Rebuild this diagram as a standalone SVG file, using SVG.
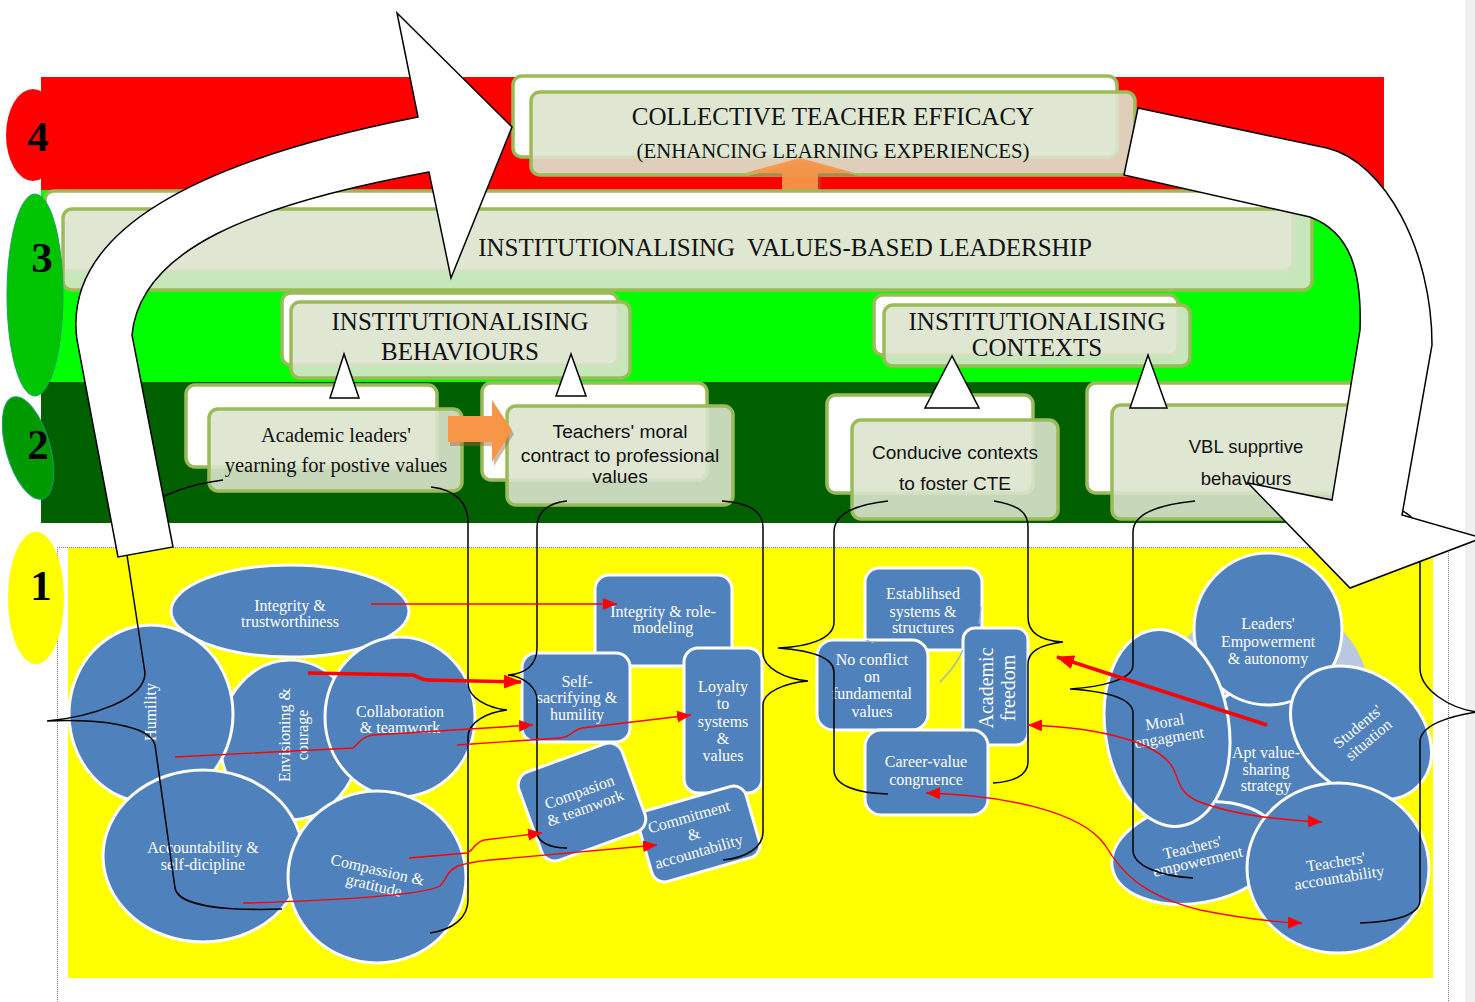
<svg xmlns="http://www.w3.org/2000/svg" width="1475" height="1002" viewBox="0 0 1475 1002">
<defs>
<style>
.bk{fill:#fff;stroke:#9bbb59;stroke-width:3.5}
.fr{fill:#dce4ce;fill-opacity:.9;stroke:#9bbb59;stroke-width:3.5}
.ser{font-family:"Liberation Serif","Times New Roman",serif;fill:#111}
.san{font-family:"Liberation Sans",Arial,sans-serif;fill:#111}
.mid{text-anchor:middle}
.blob{fill:#4f81bd;stroke:#fff;stroke-width:3}
.wt{font-family:"Liberation Serif","Times New Roman",serif;fill:#fff;font-size:16px;text-anchor:middle}
.br{fill:none;stroke:#000;stroke-width:1.5}
.rl{fill:none;stroke:#f00;stroke-width:1.4}
.rt{fill:none;stroke:#f00;stroke-width:3.5}
.wh{fill:#fff;stroke:#000;stroke-width:1.5}
.num{font-family:"Liberation Serif","Times New Roman",serif;font-weight:bold;font-size:43px;fill:#000;text-anchor:middle}
.org{fill:#f79646}
.sh{fill:#a0603a;opacity:.45}
.dot{stroke:#777;stroke-width:1;stroke-dasharray:1 1;fill:none}
.lb{fill:none;stroke:#8fb0dc;stroke-width:1.3}
</style>
<marker id="ah" markerUnits="userSpaceOnUse" markerWidth="14" markerHeight="12" refX="14" refY="6" orient="auto-start-reverse"><path d="M0,0 L14,6 L0,12 Z" fill="#f00"/></marker>
<marker id="ahb" markerUnits="userSpaceOnUse" markerWidth="18" markerHeight="14" refX="17" refY="7" orient="auto"><path d="M0,0 L18,7 L0,14 Z" fill="#f00"/></marker>
</defs>
<rect x="0" y="0" width="1475" height="1002" fill="#fff"/>
<rect x="1465" y="0" width="10" height="1002" fill="#f0f0f0"/>

<g id="bands">
<rect x="41" y="77" width="1343" height="113" fill="#f00"/>
<path d="M41 190 L1360 190 Q1398 200 1398 260 L1398 382 L41 382 Z" fill="#0f0"/>
<rect x="41" y="382" width="1339" height="141" fill="#006000"/>
<rect x="68" y="548" width="1365" height="430" fill="#ff0"/>
<path class="dot" d="M57.5 1002 V547.5 H1448.5 V1002"/>
</g>

<g id="cte">
<rect class="bk" x="513" y="76" width="604" height="81" rx="9"/>
<rect class="fr" x="531" y="92" width="604" height="83" rx="9"/>
<text class="ser mid" x="833" y="125" font-size="25">COLLECTIVE TEACHER EFFICACY</text>
<text class="ser mid" x="833" y="158" font-size="20.8">(ENHANCING LEARNING EXPERIENCES)</text>
</g>
<g id="up-arrow">
<path class="sh" d="M785 176 L785 200 L821 200 L821 176 L858 176 L803 161 L748 176 Z"/>
<path class="org" d="M782 173 L782 197 L818 197 L818 173 L855 173 L800 158 L745 173 Z" opacity=".92"/>
</g>

<g id="vbl">
<rect class="bk" x="45" y="191" width="1248" height="80" rx="9"/>
<rect class="fr" x="63" y="209" width="1249" height="81" rx="9"/>
<text class="ser mid" x="785" y="256" font-size="25" xml:space="preserve">INSTITUTIONALISING  VALUES-BASED LEADERSHIP</text>
</g>

<g id="behaviours">
<rect class="bk" x="282" y="293" width="336" height="72" rx="9"/>
<rect class="fr" x="291" y="302" width="339" height="76" rx="9"/>
<text class="ser mid" x="460" y="330" font-size="25">INSTITUTIONALISING</text>
<text class="ser mid" x="460" y="360" font-size="25">BEHAVIOURS</text>
</g>
<g id="contexts">
<rect class="bk" x="874" y="295" width="304" height="60" rx="9"/>
<rect class="fr" x="884" y="305" width="306" height="61" rx="9"/>
<text class="ser mid" x="1037" y="330" font-size="25">INSTITUTIONALISING</text>
<text class="ser mid" x="1037" y="356" font-size="25">CONTEXTS</text>
</g>

<g id="academic-leaders">
<rect class="bk" x="186" y="385" width="251" height="82" rx="9"/>
<rect class="fr" x="209" y="409" width="253" height="82" rx="9"/>
<text class="ser mid" x="336" y="442" font-size="20.5">Academic leaders'</text>
<text class="ser mid" x="336" y="472" font-size="20.5">yearning for postive values</text>
</g>
<g id="teachers-moral">
<rect class="bk" x="482" y="383" width="225" height="97" rx="9"/>
<rect class="fr" x="507" y="406" width="226" height="99" rx="9"/>
<text class="san mid" x="620" y="438" font-size="19.2">Teachers' moral</text>
<text class="san mid" x="620" y="462" font-size="19.2">contract to professional</text>
<text class="san mid" x="620" y="483" font-size="19.2">values</text>
</g>
<g id="conducive">
<rect class="bk" x="827" y="395" width="206" height="98" rx="9"/>
<rect class="fr" x="852" y="420" width="206" height="99" rx="9"/>
<text class="san mid" x="955" y="459" font-size="19">Conducive contexts</text>
<text class="san mid" x="955" y="490" font-size="19">to foster CTE</text>
</g>
<g id="vbl-supportive">
<rect class="bk" x="1087" y="383" width="280" height="110" rx="9"/>
<rect class="fr" x="1112" y="405" width="280" height="114" rx="9"/>
<text class="san mid" x="1246" y="453" font-size="18.5">VBL supprtive</text>
<text class="san mid" x="1246" y="485" font-size="18.5">behaviours</text>
</g>

<g id="level-4"><ellipse cx="33" cy="135" rx="27" ry="46" fill="#f00"/><text class="num" x="38" y="151">4</text></g>
<g id="level-3"><ellipse cx="35" cy="295" rx="28" ry="101" fill="#00c400" stroke="#1aa060" stroke-width="1"/><text class="num" x="42" y="272">3</text></g>
<g id="level-2"><ellipse cx="28" cy="448" rx="22" ry="53" transform="rotate(-16 28 448)" fill="#009a00" stroke="#10a070" stroke-width="1"/><text class="num" x="38" y="459">2</text></g>
<g id="level-1"><ellipse cx="36" cy="598" rx="28" ry="66" fill="#ff0"/><text class="num" x="41" y="600">1</text></g>

<g id="triangles">
<path class="wh" d="M344 354 L330 398 L359 398 Z"/>
<path class="wh" d="M571 354 L556 396 L586 396 Z"/>
<path class="wh" d="M952 356 L925 408 L979 408 Z"/>
<path class="wh" d="M1148 355 L1130 408 L1167 408 Z"/>
</g>
<g id="right-orange-arrow">
<path class="sh" d="M450 420 L494 420 L494 404 L514 434 L494 466 L494 446 L450 446 Z"/>
<path class="org" d="M448 416 L492 416 L492 400 L512 430 L492 462 L492 442 L448 442 Z"/>
</g>

<g id="cluster-behaviours-left">
<g id="n-envisioning"><ellipse class="blob" cx="290" cy="740" rx="70" ry="80"/><g transform="translate(290 735) rotate(-90)"><text class="wt" x="0" y="0">Envisioning &amp;</text><text class="wt" x="0" y="18">courage</text></g></g>
<g id="n-integrity-trust"><ellipse class="blob" cx="290" cy="611" rx="119" ry="46"/><text class="wt" x="290" y="611">Integrity &amp;</text><text class="wt" x="290" y="627">trustworthiness</text></g>
<g id="n-humility"><ellipse class="blob" cx="151" cy="714" rx="82" ry="89"/><text class="wt" transform="translate(156 712) rotate(-90)">Humility</text></g>
<g id="n-collaboration"><ellipse class="blob" cx="400" cy="717" rx="75" ry="80"/><text class="wt" x="400" y="717">Collaboration</text><text class="wt" x="400" y="733">&amp; teamwork</text></g>
<g id="n-accountability"><ellipse class="blob" cx="203" cy="856" rx="100" ry="86"/><text class="wt" x="203" y="853">Accountability &amp;</text><text class="wt" x="203" y="870">self-dicipline</text></g>
<g id="n-compassion-gratitude"><ellipse class="blob" cx="377" cy="877" rx="89" ry="86"/><g transform="translate(377 872) rotate(13)"><text class="wt" x="0" y="3">Compassion &amp;</text><text class="wt" x="0" y="19">gratitude</text></g></g>
</g>

<g id="cluster-behaviours-mid">
<g id="n-integrity-role"><rect class="blob" x="595" y="575" width="137" height="91" rx="14"/><text class="wt" x="663" y="617">Integrity &amp; role-</text><text class="wt" x="663" y="633">modeling</text></g>
<g id="n-loyalty"><rect class="blob" x="684" y="648" width="78" height="145" rx="14"/><text class="wt" x="723" y="692">Loyalty</text><text class="wt" x="723" y="709">to</text><text class="wt" x="723" y="727">systems</text><text class="wt" x="723" y="744">&amp;</text><text class="wt" x="723" y="761">values</text></g>
<g id="n-commitment"><g transform="translate(699 834) rotate(-16)"><rect class="blob" x="-56" y="-37" width="112" height="74" rx="13"/><text class="wt" x="-5" y="-14">Commitment</text><text class="wt" x="-5" y="4">&amp;</text><text class="wt" x="-5" y="22">accountability</text></g></g>
<g id="n-compasion-teamwork"><g transform="translate(582 802) rotate(-20)"><rect class="blob" x="-55" y="-47" width="110" height="94" rx="14"/><text class="wt" x="1" y="-5">Compasion</text><text class="wt" x="1" y="12">&amp; teamwork</text></g></g>
<g id="n-self-sacrifying"><rect class="blob" x="522" y="653" width="108" height="89" rx="14"/><text class="wt" x="577" y="687">Self-</text><text class="wt" x="577" y="703">sacrifying &amp;</text><text class="wt" x="577" y="720">humility</text></g>
</g>

<g id="cluster-contexts-mid">
<g id="n-established"><rect class="blob" x="865" y="568" width="117" height="82" rx="14"/><text class="wt" x="923" y="599">Establihsed</text><text class="wt" x="923" y="617">systems &amp;</text><text class="wt" x="923" y="633">structures</text></g>
<g id="n-no-conflict"><rect class="blob" x="817" y="640" width="111" height="90" rx="16"/><text class="wt" x="872" y="665">No conflict</text><text class="wt" x="872" y="682">on</text><text class="wt" x="872" y="699">fundamental</text><text class="wt" x="872" y="717">values</text></g>
<g id="n-academic-freedom"><rect class="blob" x="963" y="628" width="65" height="117" rx="12"/><g transform="translate(993 688) rotate(-90)"><text class="wt" style="font-size:20px" x="0" y="0">Academic</text><text class="wt" style="font-size:20px" x="0" y="22">freedom</text></g></g>
<g id="n-career-value"><rect class="blob" x="865" y="730" width="123" height="85" rx="16"/><text class="wt" x="926" y="767">Career-value</text><text class="wt" x="926" y="785">congruence</text></g>
<path class="lb" d="M940 682 C950 672 958 662 963 650"/>
<path class="lb" d="M981 607 L979 624"/>
<path class="lb" d="M866 640 L874 643"/>
</g>

<g id="cluster-contexts-right">
<circle cx="1268" cy="700" r="102" fill="#b9c8e0"/>
<g id="n-apt-value"><circle class="blob" cx="1268" cy="755" r="72"/><text class="wt" x="1266" y="758">Apt value-</text><text class="wt" x="1266" y="775">sharing</text><text class="wt" x="1266" y="791">strategy</text></g>
<g id="n-leaders-empowerment"><ellipse class="blob" cx="1268" cy="629" rx="74" ry="76"/><text class="wt" x="1268" y="629">Leaders'</text><text class="wt" x="1268" y="647">Empowerment</text><text class="wt" x="1268" y="664">&amp; autonomy</text></g>
<g id="n-teachers-empowerment"><ellipse class="blob" cx="1196" cy="853" rx="85" ry="50" transform="rotate(-10 1196 853)"/><g transform="translate(1196 854) rotate(-13)"><text class="wt" x="-2" y="-2">Teachers'</text><text class="wt" x="0" y="13">empowerment</text></g></g>
<g id="n-moral-engagement"><ellipse class="blob" cx="1167" cy="728" rx="62" ry="99" transform="rotate(-8 1167 728)"/><g transform="translate(1167 730) rotate(-9)"><text class="wt" x="-1" y="-3">Moral</text><text class="wt" x="1" y="13">engagment</text></g></g>
<g id="n-students"><ellipse class="blob" cx="1361" cy="733" rx="78" ry="58" transform="rotate(40 1361 733)"/><g transform="translate(1363 733) rotate(-40)"><text class="wt" x="0" y="-3">Students'</text><text class="wt" x="0" y="14">situation</text></g></g>
<g id="n-teachers-accountability"><ellipse class="blob" cx="1338" cy="868" rx="91" ry="85"/><g transform="translate(1338 870) rotate(-9)"><text class="wt" x="-1" y="-3">Teachers'</text><text class="wt" x="0" y="13">accountability</text></g></g>
</g>

<g id="connectors">
<path class="br" d="M223 480 C150 490 122 520 127 555 L145 673 C145 700 90 717 47 721 C100 719 150 725 155 745 L175 888 C178 905 220 911 282 909"/>
<path class="br" d="M431 487 C458 490 468 505 468 522 L468 683 C468 698 488 708 507 710 C488 712 468 722 468 737 L468 900 C468 918 452 930 430 933"/>
<path class="br" d="M567 501 C548 503 537 512 537 527 L537 648 C537 665 525 674 508 675 C525 677 537 688 537 700 L537 832 C537 842 550 848 567 848"/>
<path class="br" d="M722 501 C750 503 763 512 763 527 L763 653 C763 668 785 679 808 681 C785 683 763 692 763 705 L763 832 C763 848 745 858 723 860"/>
<path class="br" d="M888 501 C852 505 834 515 834 532 L834 622 C834 640 805 647 778 648 C805 650 834 656 834 672 L834 770 C834 785 855 793 888 794"/>
<path class="br" d="M994 501 C1018 505 1028 512 1028 527 L1028 617 C1028 635 1045 641 1063 642 C1045 644 1028 650 1028 664 L1028 762 C1028 776 1012 782 993 783"/>
<path class="br" d="M1195 501 C1155 505 1133 515 1133 532 L1133 665 C1133 680 1100 687 1070 689 C1100 691 1133 697 1133 713 L1133 850 C1133 866 1160 876 1193 878"/>
<path class="br" d="M1380 505 C1408 508 1420 520 1420 540 L1420 668 C1420 690 1450 708 1476 712 C1450 716 1420 725 1420 742 L1420 900 C1420 915 1395 922 1360 923"/>
<path class="rl" marker-end="url(#ah)" d="M371 604 L617 604"/>
<path class="rt" marker-end="url(#ahb)" d="M308 673 L413 675 C418 676 420 680 428 680 L521 682"/>
<path class="rl" marker-end="url(#ah)" d="M175 757 L353 748 C358 745 360 737 373 735 L533 725"/>
<path class="rl" marker-end="url(#ah)" d="M457 745 L560 738 C572 737 572 730 582 728 L691 715"/>
<path class="rl" marker-end="url(#ah)" d="M409 858 L467 853 C473 851 474 843 484 840 L542 833"/>
<path class="rl" marker-end="url(#ah)" d="M243 903 C330 901 425 895 440 886 C447 880 445 872 458 866 C470 862 480 861 490 860 L657 845"/>
<path class="rt" marker-end="url(#ahb)" d="M1267 725 L1057 657"/>
<path class="rl" marker-start="url(#ah)" marker-end="url(#ah)" d="M1028 725 C1110 728 1160 745 1173 768 C1180 782 1178 790 1195 800 C1230 815 1280 820 1322 822"/>
<path class="rl" marker-start="url(#ah)" marker-end="url(#ah)" d="M926 793 C1000 795 1080 810 1105 845 C1120 870 1140 895 1200 910 C1240 918 1270 922 1302 923"/>
</g>

<g id="big-arrows">
<path class="wh" d="M118 557 L77 340 C62 230 200 160 418 117 L397 13 L512 127 L451 278 L429 172 C250 205 140 250 132 335 L173 547 Z"/>
<path class="wh" d="M1138 108 L1327 148 C1385 162 1432 250 1432 345 L1402 515 L1482 538 L1350 588 L1248 483 L1332 500 L1360 330 C1362 270 1350 232 1310 217 L1124 175 Z"/>
</g>
</svg>
